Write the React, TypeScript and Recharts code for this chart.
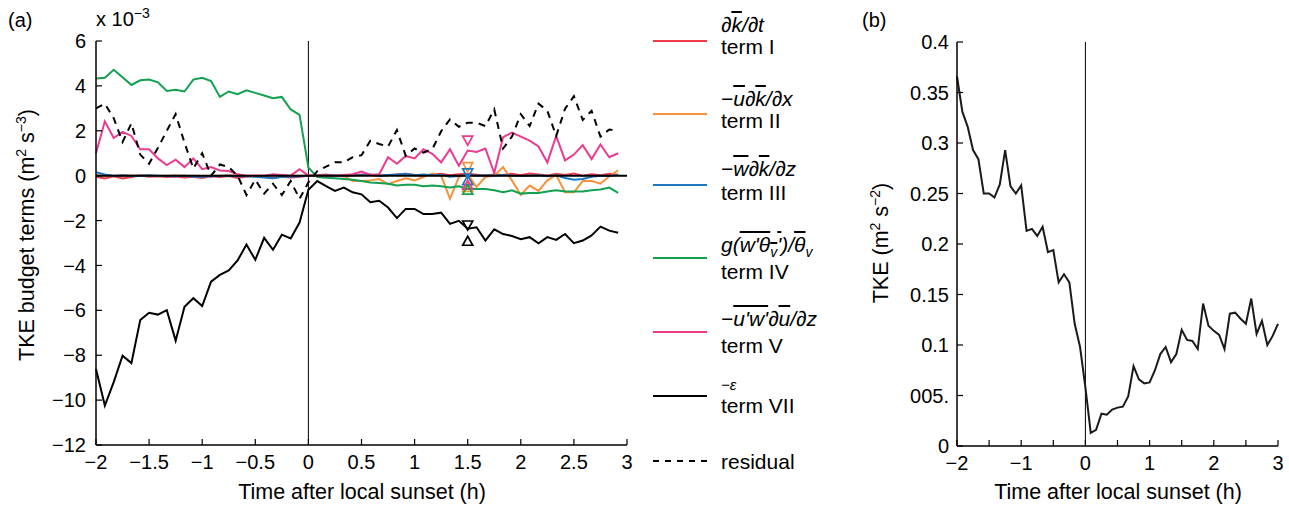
import React from 'react';
import { ComposedChart, LineChart, Line, Scatter, XAxis, YAxis, ReferenceLine } from 'recharts';

const FONT = "'Liberation Sans', Arial, Helvetica, sans-serif";

// time after local sunset, minutes (5-min averages)
const timeMin = [
  -120, -115, -110, -105, -100, -95, -90, -85, -80, -75, -70, -65, -60, -55, -50, -45, -40, -35, -30, -25, -20, -15, -10, -5,
  0, 5, 10, 15, 20, 25, 30, 35, 40, 45, 50, 55, 60, 65, 70, 75, 80, 85, 90, 95, 100, 105, 110, 115, 120, 125, 130, 135, 140,
  145, 150, 155, 160, 165, 170, 175, 180,
];

// budget terms, x 10^-3 m2 s-3
const termI = [
  -0.05, -0.12, -0.03, -0.13, -0.06, 0.02, -0.05, -0.03, -0.06, -0.04, -0.08, -0.05, -0.1, -0.03, -0.06, -0.02, -0.1, -0.04, -0.02, -0.05, -0.1, -0.05, -0.08, -0.05,
  0, 0.02, 0.05, 0, -0.03, 0.02, 0.05, 0.03, 0, 0.02, 0.05, 0.08, 0.03, 0, 0.05, 0.08, 0.02, 0.06, 0.08, 0.04, 0, 0.05, 0.03, 0.08, 0.02, 0.1, 0.05, 0, 0.08, 0.03, 0.1, 0, 0.06, 0.02, 0.08, 0.04,
];
const termII = [
  0.02, 0, -0.02, 0, 0.02, 0, 0, -0.02, 0, 0.02, 0, 0, -0.02, 0, 0, 0.02, 0, -0.03, 0, 0, 0.02, 0, 0, 0,
  0, 0, 0, 0, 0, -0.24, -0.24, -0.21, -0.15, -0.38, -0.24, -0.12, -0.21, -0.06, 0.09, 0, -1.03, -0.06, 0.06, -0.5, -0.06, 0, 0.38, -0.21, -0.86, -0.44, -0.68, -0.21, 0.03, -0.74, -0.74, -0.24, -0.24, -0.36, -0.03, 0.24,
];
const termIII = [
  0.15, 0.05, 0, 0.02, -0.02, 0, 0.02, 0, -0.02, -0.03, 0, -0.05, -0.05, -0.03, -0.02, 0, -0.03, -0.03, -0.05, -0.08, -0.12, -0.05, -0.05, -0.03,
  0, 0, 0, 0.02, 0, 0.02, 0.03, 0.05, 0, 0.03, 0.05, 0.08, 0.02, 0.05, 0.02, 0.03, -0.05, -0.02, 0.05, 0, 0.02, 0, 0.03, 0, -0.02, 0, 0.02, -0.03, 0.02, -0.1, -0.18, -0.15, -0.05, 0, -0.02, 0.03,
];
const termIV = [
  4.33, 4.36, 4.72, 4.39, 4.04, 4.25, 4.28, 4.16, 3.77, 3.83, 3.75, 4.28, 4.36, 4.22, 3.51, 3.75, 3.63, 3.8, 3.69, 3.57, 3.45, 3.51, 2.95, 2.71,
  0.36, -0.06, -0.09, -0.12, -0.15, -0.18, -0.24, -0.3, -0.33, -0.36, -0.44, -0.41, -0.41, -0.47, -0.44, -0.47, -0.53, -0.47, -0.59, -0.59, -0.59, -0.65, -0.74, -0.65, -0.8, -0.77, -0.77, -0.71, -0.65, -0.71, -0.71, -0.71, -0.65, -0.62, -0.53, -0.77,
];
const termV = [
  1.0, 2.42, 1.68, 1.95, 1.77, 1.18, 1.18, 0.77, 0.47, 0.71, 0.38, 0.77, 0.29, 0.38, 0.23, 0.21, 0.06, 0, 0, 0, 0.06, 0.03, 0, 0.29,
  0, 0, 0, 0, 0.03, 0.06, 0.18, 0.03, 0.06, 0.82, 0.53, 0.88, 0.77, 1.18, 0.97, 0.59, 1.18, 0.44, 1.12, 1.06, 1.21, 0.12, 1.72, 1.92, 1.74, 1.56, 1.3, 0.59, 1.77, 0.68, 0.94, 1.36, 0.74, 1.39, 0.82, 1.0,
];
const termVII = [
  -8.61, -10.24, -9.2, -8.02, -8.35, -6.43, -6.11, -6.19, -5.99, -7.35, -5.84, -5.46, -5.81, -4.72, -4.42, -4.22, -3.78, -3.07, -3.75, -2.77, -3.3, -2.63, -2.8, -2.09,
  -0.63, -0.24, -0.47, -0.68, -0.53, -0.74, -0.83, -1.18, -1.12, -1.42, -1.89, -1.48, -1.48, -1.71, -1.71, -1.65, -2.15, -2.01, -2.36, -2.3, -2.89, -2.39, -2.6, -2.69, -2.83, -2.74, -3.01, -2.74, -2.86, -2.6, -3.01, -2.89, -2.66, -2.27, -2.45, -2.54,
];
const residual = [
  3.0, 3.21, 2.56, 1.5, 2.33, 0.94, 0.53, 1.24, 2.0, 2.74, 1.47, 0.32, 1.0, 0, 0.5, 0.38, 0, -0.86, -0.18, -0.8, -0.36, -0.86, -0.24, -1.03,
  -0.3, 0.2, 0.4, 0.6, 0.59, 0.82, 0.91, 1.56, 1.41, 1.3, 2.03, 0.88, 1.21, 1.03, 1.18, 1.98, 2.51, 2.18, 2.36, 2.36, 2.21, 2.95, 1.21, 1.74, 2.74, 2.21, 3.21, 2.89, 1.77, 2.98, 3.54, 2.48, 2.89, 1.74, 2.06, 2.0,
];

// TKE, m2 s-2
const tke = [
  0.366, 0.331, 0.316, 0.293, 0.284, 0.25, 0.25, 0.246, 0.259, 0.293, 0.257, 0.25, 0.258, 0.213, 0.215, 0.208, 0.217, 0.192, 0.194, 0.162, 0.17, 0.162, 0.121, 0.098, 0.058,
  0.013, 0.016, 0.032, 0.031, 0.036, 0.038, 0.039, 0.049, 0.079, 0.066, 0.062, 0.063, 0.075, 0.091, 0.098, 0.083, 0.091, 0.115, 0.105, 0.104, 0.096, 0.141, 0.119, 0.114, 0.11, 0.096, 0.131, 0.132, 0.126, 0.121, 0.146, 0.111, 0.124, 0.1, 0.109, 0.121,
];

// spread markers at 1.5 h
const markerTime = 1.5;
const markerColors = ['#ec3a8e', '#f7923a', '#1c78c0', '#000000', '#f7923a', '#1c78c0', '#ec3a8e', '#12a150', '#000000'];
const markerValues = [1.56, 0.38, 0.1, -2.22, -0.5, -0.2, -0.4, -0.62, -2.9];
const markerDown = [true, true, true, true, false, false, false, false, false];

const xTicks = [-2, -1.5, -1, -0.5, 0, 0.5, 1, 1.5, 2, 2.5, 3];
const yTicksA = [-12, -10, -8, -6, -4, -2, 0, 2, 4, 6];
const yTicksB = [0, 0.05, 0.1, 0.15, 0.2, 0.25, 0.3, 0.35, 0.4];
const yLabelsB = ['0', '005.', '0.1', '0.15', '0.2', '0.25', '0.3', '0.35', '0.4'];

const C = { I: '#ef3b4c', II: '#f7923a', III: '#1c78c0', IV: '#12a150', V: '#ec3a8e', VII: '#000000' };

const budgetData = termVII.map((_, i) => ({
  t: timeMin[i] / 60,
  I: termI[i], II: termII[i], III: termIII[i], IV: termIV[i], V: termV[i], VII: termVII[i], res: residual[i],
}));
const tkeData = tke.map((v, i) => ({ t: timeMin[i] / 60, tke: v }));

const minus = (v: number) => String(v).replace('-', '\u2212');
const TICK = { fontSize: 20, fill: '#000', fontFamily: FONT };
const AXL = { stroke: '#000', strokeWidth: 1.5 };
const TKL = { stroke: '#000', strokeWidth: 1.2 };

function Tri(props: any) {
  const { cx, cy, color, down } = props;
  if (cx == null || cy == null) return null;
  const w = 5, h = 4.5;
  const pts = down
    ? `${cx - w},${cy - h} ${cx + w},${cy - h} ${cx},${cy + h}`
    : `${cx - w},${cy + h} ${cx + w},${cy + h} ${cx},${cy - h}`;
  return <polygon points={pts} fill="none" stroke={color} strokeWidth={1.7} />;
}

const O = ({ children }: { children: React.ReactNode }) => (
  <span style={{ textDecoration: 'overline' }}>{children}</span>
);
const SUB = { fontSize: 14, verticalAlign: 'sub' as const, lineHeight: 0 };

const legendFormula: React.ReactNode[] = [
  <i>∂<O>k</O>/∂t</i>,
  <i>−<O>u</O>∂<O>k</O>/∂x</i>,
  <i>−<O>w</O>∂<O>k</O>/∂z</i>,
  <i>g(<O>w'θ<span style={SUB}>v</span>'</O>)/<O>θ</O><span style={SUB}>v</span></i>,
  <i>−<O>u'w'</O>∂<O>u</O>/∂z</i>,
  <i style={{ fontSize: 15 }}>−ε</i>,
  null,
];
const legendNames = ['term I', 'term II', 'term III', 'term IV', 'term V', 'term VII', 'residual'];
const legendColors = [C.I, C.II, C.III, C.IV, C.V, C.VII, '#000'];
const legendSampleY = [41, 114, 185, 258, 332, 396, 461];
const legendNameTop = [36, 110, 182, 261, 335, 395, 451];
const legendFormulaTop = [14, 88, 158, 234, 308, 372, 0];

function BudgetLegend() {
  return (
    <div style={{ position: 'absolute', left: 0, top: 0, fontFamily: FONT, fontSize: 21, lineHeight: 1, color: '#000' }}>
      {legendNames.map((name, i) => (
        <React.Fragment key={name}>
          <svg style={{ position: 'absolute', left: 650, top: legendSampleY[i] - 3 }} width={60} height={6}>
            <line x1={3} x2={57} y1={3} y2={3} stroke={legendColors[i]} strokeWidth={2}
              strokeDasharray={name === 'residual' ? '6 6' : undefined} />
          </svg>
          {legendFormula[i] && (
            <div style={{ position: 'absolute', left: 721, top: legendFormulaTop[i], whiteSpace: 'nowrap' }}>{legendFormula[i]}</div>
          )}
          <div style={{ position: 'absolute', left: 721, top: legendNameTop[i], whiteSpace: 'nowrap' }}>{name}</div>
        </React.Fragment>
      ))}
    </div>
  );
}

export default function App() {
  return (
    <div style={{ position: 'absolute', left: 0, top: 0, width: 1289, height: 511, background: '#fff', fontFamily: FONT, overflow: 'hidden' }}>
      <div style={{ position: 'absolute', left: 0, top: 0 }}>
        <ComposedChart width={880} height={511} data={budgetData} margin={{ top: 41, right: 253, bottom: 26, left: 36 }}>
          <XAxis dataKey="t" type="number" domain={[-2, 3]} ticks={xTicks} interval={0} tickFormatter={minus}
            height={40} tick={TICK} tickSize={-6} tickMargin={16} axisLine={AXL} tickLine={TKL} />
          <XAxis xAxisId="top" orientation="top" type="number" domain={[-2, 3]} ticks={xTicks} interval={0}
            height={0} tick={false} tickSize={-6} axisLine={AXL} tickLine={TKL} />
          <YAxis type="number" domain={[-12, 6]} ticks={yTicksA} interval={0} tickFormatter={minus}
            width={60} tick={TICK} tickSize={-6} tickMargin={16} axisLine={AXL} tickLine={TKL} />
          <YAxis yAxisId="right" orientation="right" type="number" domain={[-12, 6]} ticks={yTicksA} interval={0}
            width={0} tick={false} tickSize={-6} axisLine={AXL} tickLine={TKL} />
          <ReferenceLine x={0} stroke="#000" strokeWidth={1} />
          <Line dataKey="I" stroke={C.I} strokeWidth={2} dot={false} activeDot={false} isAnimationActive={false} />
          <Line dataKey="II" stroke={C.II} strokeWidth={2} dot={false} activeDot={false} isAnimationActive={false} />
          <Line dataKey="III" stroke={C.III} strokeWidth={2} dot={false} activeDot={false} isAnimationActive={false} />
          <Line dataKey="IV" stroke={C.IV} strokeWidth={2} dot={false} activeDot={false} isAnimationActive={false} />
          <Line dataKey="V" stroke={C.V} strokeWidth={2} dot={false} activeDot={false} isAnimationActive={false} />
          <ReferenceLine y={0} stroke="#000" strokeWidth={2} />
          <Line dataKey="VII" stroke={C.VII} strokeWidth={2} dot={false} activeDot={false} isAnimationActive={false} />
          <Line dataKey="res" stroke="#000" strokeWidth={2} strokeDasharray="7 6" dot={false} activeDot={false} isAnimationActive={false} />
          {markerValues.map((v, i) => (
            <Scatter key={i} data={[{ t: markerTime, m: v }]} dataKey="m" isAnimationActive={false}
              shape={(p: any) => <Tri {...p} color={markerColors[i]} down={markerDown[i]} />} />
          ))}
        </ComposedChart>
      </div>

      <div style={{ position: 'absolute', left: 860, top: 0 }}>
        <LineChart width={429} height={511} data={tkeData} margin={{ top: 42, right: 11, bottom: 25, left: 37 }}>
          <XAxis dataKey="t" type="number" domain={[-2, 3]} ticks={xTicks} interval={0}
            tickFormatter={(v: number) => (Number.isInteger(v) ? minus(v) : '')}
            height={40} tick={TICK} tickSize={-6} tickMargin={16} axisLine={AXL} tickLine={TKL} />
          <XAxis xAxisId="top" orientation="top" type="number" domain={[-2, 3]} ticks={xTicks} interval={0}
            height={0} tick={false} tickSize={-6} axisLine={AXL} tickLine={TKL} />
          <YAxis type="number" domain={[0, 0.4]} ticks={yTicksB} interval={0}
            tickFormatter={(v: number) => yLabelsB[yTicksB.indexOf(v)] ?? String(v)}
            width={60} tick={TICK} tickSize={-6} tickMargin={14} axisLine={AXL} tickLine={TKL} />
          <YAxis yAxisId="right" orientation="right" type="number" domain={[0, 0.4]} ticks={yTicksB} interval={0}
            width={0} tick={false} tickSize={-6} axisLine={AXL} tickLine={TKL} />
          <ReferenceLine x={0} stroke="#000" strokeWidth={1} />
          <Line dataKey="tke" stroke="#1a1a1a" strokeWidth={2} dot={false} activeDot={false} isAnimationActive={false} />
        </LineChart>
      </div>

      <BudgetLegend />

      <svg width={1289} height={511} style={{ position: 'absolute', left: 0, top: 0, pointerEvents: 'none' }}
        fontFamily={FONT} fill="#000">
        <text x={8} y={27} fontSize={20}>(a)</text>
        <text x={862} y={27} fontSize={20}>(b)</text>
        <text x={96} y={26} fontSize={20}>x 10<tspan fontSize={14} dy={-8}>−3</tspan></text>
        <text x={362} y={499} fontSize={21.5} textAnchor="middle">Time after local sunset (h)</text>
        <text x={1118} y={499} fontSize={21.5} textAnchor="middle">Time after local sunset (h)</text>
        <text x={34} y={235} fontSize={21.5} textAnchor="middle" transform="rotate(-90 34 235)">
          TKE budget terms (m<tspan fontSize={14} dy={-8}>2</tspan><tspan dy={8}> s</tspan><tspan fontSize={14} dy={-8}>−3</tspan><tspan dy={8}>)</tspan>
        </text>
        <text x={888} y={243} fontSize={21.5} textAnchor="middle" transform="rotate(-90 888 243)">
          TKE (m<tspan fontSize={14} dy={-8}>2</tspan><tspan dy={8}> s</tspan><tspan fontSize={14} dy={-8}>−2</tspan><tspan dy={8}>)</tspan>
        </text>
      </svg>
    </div>
  );
}
